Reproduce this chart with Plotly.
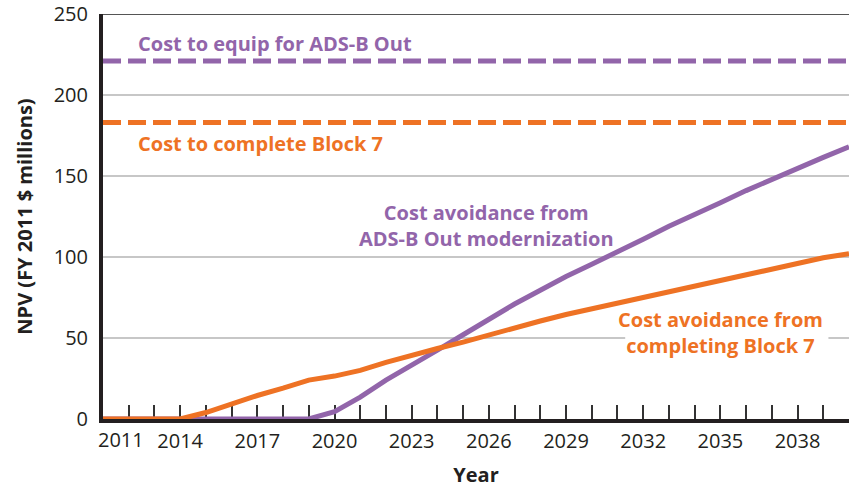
import plotly.graph_objects as go

# NPV of cost avoidance vs. up-front costs (FY 2011 $ millions)
years = list(range(2011, 2041))
block7_avoidance = [0, 0, 0, 0, 4, 9.5, 14.5, 19, 24, 26.5, 30, 35, 39.5, 43.5, 47.5,
                    52, 56, 60.5, 64.5, 68, 71.5, 75, 78.5, 82, 85.5, 89, 92.5, 96, 99.5, 102]
adsb_avoidance = [0, 0, 0, 0, 0, 0, 0, 0, 0, 4.5, 13.5, 24, 33, 42.5, 52,
                  61.5, 71, 79.5, 88, 95.5, 103, 111, 119, 126, 133.5, 141, 148, 155, 161.5, 168]
cost_adsb_equip = 221
cost_block7 = 183

x_tick_vals = list(range(2011, 2039, 3))
x_tick_text = [str(v) for v in x_tick_vals]
y_tick_vals = [0, 50, 100, 150, 200, 250]
grid_vals = [50, 100, 150, 200]

PURPLE = "#9265AA"
ORANGE = "#EE7224"
TEXT = "#231F20"
GRID = "#B5B5B5"
FONT = "Open Sans"

fig = go.Figure()

fig.add_trace(go.Scatter(x=[years[0], years[-1]], y=[cost_adsb_equip] * 2, mode="lines",
                         line=dict(color=PURPLE, width=5, dash="18px,7px"),
                         hoverinfo="skip", cliponaxis=False))
fig.add_trace(go.Scatter(x=[years[0], years[-1]], y=[cost_block7] * 2, mode="lines",
                         line=dict(color=ORANGE, width=5, dash="18px,7px"),
                         hoverinfo="skip", cliponaxis=False))
fig.add_trace(go.Scatter(x=years, y=adsb_avoidance, mode="lines",
                         line=dict(color=PURPLE, width=5), cliponaxis=False))
fig.add_trace(go.Scatter(x=years, y=block7_avoidance, mode="lines",
                         line=dict(color=ORANGE, width=5), cliponaxis=False))

# horizontal gridlines; the 50 line is broken where the Block 7 label sits
for g in grid_vals:
    if g == 50:
        fig.add_shape(type="line", xref="x", yref="y", x0=2011, x1=2031.3, y0=g, y1=g,
                      line=dict(color=GRID, width=1.5), layer="below")
        fig.add_shape(type="line", xref="x", yref="y", x0=2039.2, x1=2040, y0=g, y1=g,
                      line=dict(color=GRID, width=1.5), layer="below")
    else:
        fig.add_shape(type="line", xref="x", yref="y", x0=2011, x1=2040, y0=g, y1=g,
                      line=dict(color=GRID, width=1.5), layer="below")

# dark rule along the top of the plot
fig.add_shape(type="line", xref="paper", yref="y", x0=0, x1=1, y0=250, y1=250,
              line=dict(color="#555555", width=2), layer="below")

# first year label sits just right of the y axis, clear of the "0" label
fig.add_annotation(x=x_tick_vals[0], xref="x", y=0, yref="paper",
                   text=x_tick_text[0], xanchor="left", yanchor="top",
                   xshift=-7, yshift=-5, showarrow=False,
                   font=dict(family=FONT, size=20, color=TEXT))

ann_font = dict(family=FONT, size=20, color=PURPLE)
fig.add_annotation(x=2012.3, y=232, text="<b>Cost to equip for ADS-B Out</b>",
                   xanchor="left", yanchor="middle", showarrow=False, font=ann_font)
fig.add_annotation(x=2012.3, y=170, text="<b>Cost to complete Block 7</b>",
                   xanchor="left", yanchor="middle", showarrow=False,
                   font=dict(ann_font, color=ORANGE))
fig.add_annotation(x=2025.9, y=119.5,
                   text="<b>Cost avoidance from<br>ADS-B Out modernization</b>",
                   xanchor="center", yanchor="middle", showarrow=False, font=ann_font)
fig.add_annotation(x=2035.0, y=53.5,
                   text="<b>Cost avoidance from<br>completing Block 7</b>",
                   xanchor="center", yanchor="middle", showarrow=False,
                   font=dict(ann_font, color=ORANGE))

fig.update_layout(
    width=849, height=489,
    margin=dict(l=103, r=0, t=14, b=70),
    paper_bgcolor="white", plot_bgcolor="white",
    showlegend=False,
    font=dict(family=FONT, size=20, color=TEXT),
    xaxis=dict(
        range=[2011, 2040], tickmode="array", tickvals=x_tick_vals,
        ticktext=[""] + x_tick_text[1:],
        ticks="inside", ticklen=14, tickwidth=1.5, tickcolor="#333333",
        minor=dict(dtick=1, tick0=2011, ticks="inside", ticklen=14,
                   tickwidth=1.5, tickcolor="#333333", showgrid=False),
        showline=True, linecolor="#231F20", linewidth=4,
        showgrid=False, zeroline=False, layer="below traces",
        ticklabelstandoff=1,
        title=dict(text="<b>Year</b>", font=dict(size=20), standoff=16),
    ),
    yaxis=dict(
        range=[0, 250], tickmode="array", tickvals=y_tick_vals,
        ticks="", showline=True, linecolor="#231F20", linewidth=4,
        showgrid=False, zeroline=False,
        layer="below traces", ticklabelstandoff=7,
        title=dict(text="<b>NPV (FY 2011 $ millions)</b>", font=dict(size=20), standoff=17),
    ),
)

fig.write_html("out.html")
